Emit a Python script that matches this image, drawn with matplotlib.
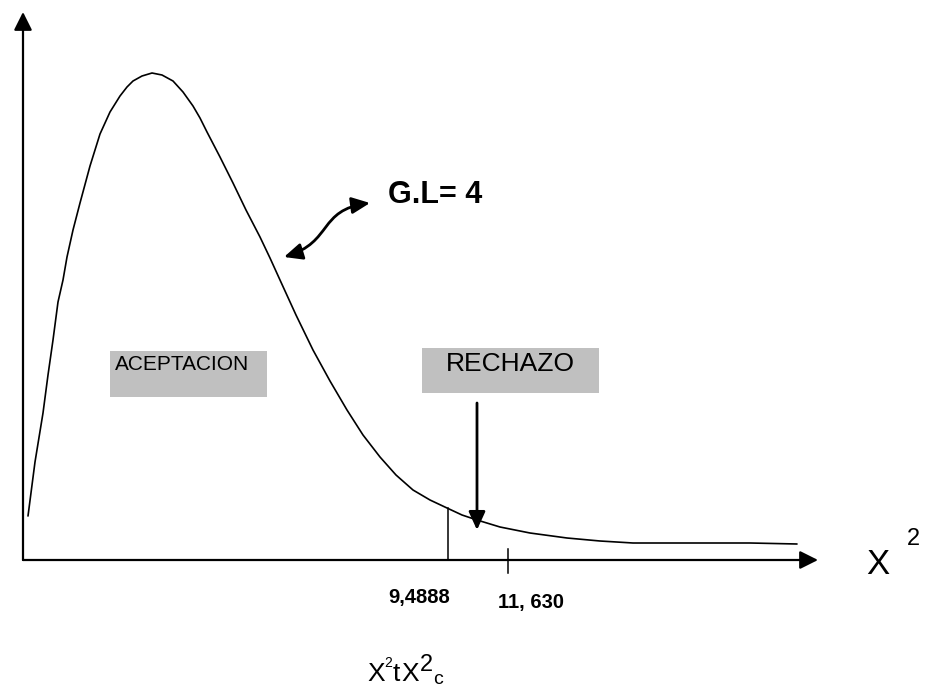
import numpy as np
import matplotlib
matplotlib.use("Agg")
import matplotlib.pyplot as plt
from matplotlib.patches import Rectangle, FancyArrowPatch
from matplotlib.path import Path

plt.rcParams['font.family'] = ['Liberation Sans', 'DejaVu Sans']

# ---- data (diagram units: origin at the axes corner, y upward) ----
curve_x = [5, 12, 20, 25, 30, 35, 40, 44, 50, 57, 67, 77, 87, 97, 104, 110, 119, 129,
           139, 150, 160, 170, 177, 184, 197, 210, 223, 237, 247, 257, 273, 290, 307,
           324, 340, 357, 373, 390, 407, 424, 439, 454, 477, 507, 544, 577, 610, 677,
           727, 774]
curve_y = [44, 98, 147, 185, 220, 258, 280, 303, 330, 357, 394, 426, 448, 464, 473, 479,
           484, 487, 485, 479, 468, 454, 442, 428, 403, 377, 350, 323, 302, 280, 245,
           210, 179, 150, 125, 103, 85, 70, 60, 52, 45, 40, 33, 27, 22, 19, 17, 17, 17,
           16]
critical_labels = ["9,4888", "11, 630"]
critical_x = [425, 485]
df_label = "G.L= 4"
region_labels = ["ACEPTACION", "RECHAZO"]

fig = plt.figure(figsize=(9.29, 6.92), dpi=100)
ax = fig.add_axes([0, 0, 1, 1])
ax.set_xlim(-23, 906)
ax.set_ylim(-132, 560)
ax.axis('off')

ak = dict(arrowstyle='-|>,head_length=1.1,head_width=0.55', lw=1.6, color='black',
          shrinkA=0, shrinkB=0, mutation_scale=10)
# y axis
ax.annotate("", xy=(0, 548), xytext=(0, 0), arrowprops=ak)
# x axis
ax.annotate("", xy=(795, 0), xytext=(0, 0), arrowprops=ak)

# curve
ax.plot(curve_x, curve_y, color='black', lw=1.2, solid_joinstyle='round',
        solid_capstyle='round')

# critical value line (to the curve) and tick
top = np.interp(critical_x[0], curve_x, curve_y)
ax.plot([critical_x[0], critical_x[0]], [0, top], color='black', lw=1.1)
ax.plot([critical_x[1], critical_x[1]], [-13, 11], color='black', lw=1.1)

ax.text(396, -43, critical_labels[0], ha='center', va='baseline',
        fontsize=14.5, fontweight='bold')
ax.text(508, -48, critical_labels[1], ha='center', va='baseline',
        fontsize=14.5, fontweight='bold')

# region boxes
ax.add_patch(Rectangle((87, 163), 157, 46, facecolor='#c0c0c0', edgecolor='none'))
ax.text(92, 195, region_labels[0], ha='left', va='center', fontsize=15)
ax.add_patch(Rectangle((399, 167), 177, 45, facecolor='#c0c0c0', edgecolor='none'))
ax.text(487, 196, region_labels[1], ha='center', va='center', fontsize=19)

# rechazo arrow
ax.annotate("", xy=(454, 30), xytext=(454, 157),
            arrowprops=dict(arrowstyle='-|>,head_length=1.1,head_width=0.5', lw=2,
                            color='black', shrinkA=0, shrinkB=0, mutation_scale=10))

# G.L label + S-shaped double arrow
ax.text(365, 357, df_label, ha='left', va='baseline', fontsize=22, fontweight='bold')
verts = [(261, 303), (310, 318), (295, 350), (347, 357)]
codes = [Path.MOVETO, Path.CURVE4, Path.CURVE4, Path.CURVE4]
ax.add_patch(FancyArrowPatch(path=Path(verts, codes),
                             arrowstyle='<|-|>,head_length=1.1,head_width=0.5',
                             mutation_scale=10, lw=2, color='black'))

# axis label X^2
ax.text(843, -14, "X", ha='left', va='baseline', fontsize=25)
ax.text(884, 15, "2", ha='left', va='baseline', fontsize=17)

# bottom formula
ax.text(344, -121, "X", ha='left', va='baseline', fontsize=19)
ax.text(361, -107, "2", ha='left', va='baseline', fontsize=10)
ax.text(370, -121, "t", ha='left', va='baseline', fontsize=19)
ax.text(378, -121, "X", ha='left', va='baseline', fontsize=19)
ax.text(397, -111, "2", ha='left', va='baseline', fontsize=17)
ax.text(410, -124, "c", ha='left', va='baseline', fontsize=14)

fig.savefig("out.png", dpi=100)
